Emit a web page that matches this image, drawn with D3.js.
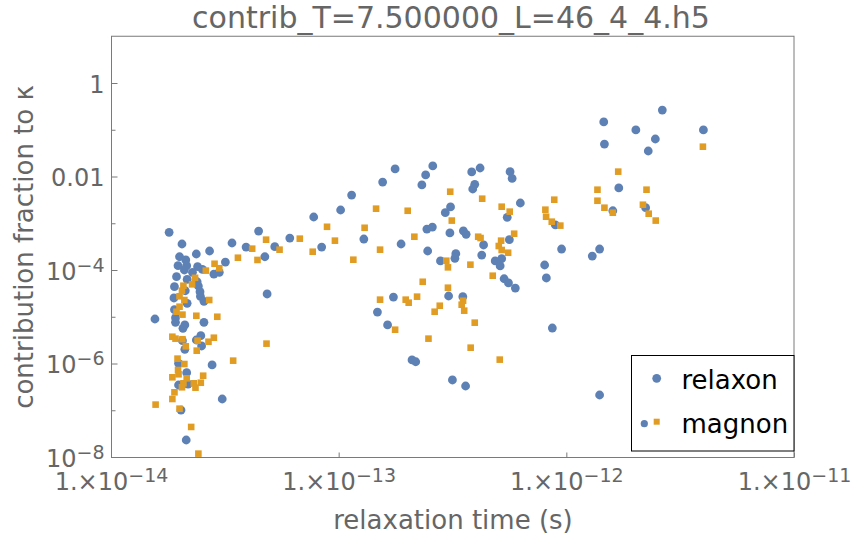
<!DOCTYPE html>
<html><head><meta charset="utf-8">
<script src="https://cdn.jsdelivr.net/npm/d3@7"></script>
<style>body{margin:0;background:#fff} svg{display:block} text{font-family:"DejaVu Sans",sans-serif}</style>
</head><body><svg id="chart" width="855" height="539"></svg>
<script>
// ---- data ----
const relaxonTau = [1.80e-14,2.05e-14,2.37e-14,2.71e-14,3.40e-14,3.92e-14,4.45e-14,2.0e-14,2.13e-14,1.97e-14,
  2.15e-14,2.10e-14,2.40e-14,2.52e-14,3.18e-14,2.83e-14,2.99e-14,2.28e-14,1.94e-14,2.16e-14,
  2.39e-14,1.90e-14,2.42e-14,2.46e-14,2.12e-14,1.89e-14,2.47e-14,2.56e-14,2.16e-14,1.90e-14,
  1.56e-14,1.92e-14,1.92e-14,2.56e-14,2.11e-14,2.07e-14,2.48e-14,2.37e-14,2.06e-14,2.50e-14,
  2.11e-14,2.78e-14,1.98e-14,2.15e-14,1.98e-14,2.18e-14,3.08e-14,2.03e-14,2.14e-14,
  1.77e-13,2.41e-13,2.32e-13,1.56e-13,1.14e-13,1.02e-13,7.77e-14,6.10e-14,5.24e-14,8.42e-14,
  1.29e-13,4.74e-14,1.88e-13,2.44e-13,2.46e-13,4.85e-14,1.74e-13,1.48e-13,1.64e-13,2.10e-13,2.18e-13,
  2.59e-13,3.84e-13,4.18e-13,5.66e-13,5.78e-13,3.96e-13,3.88e-13,6.28e-13,3.10e-13,2.94e-13,
  5.50e-13,8.95e-13,2.58e-13,3.08e-13,3.53e-13,3.63e-13,5.62e-13,4.33e-13,2.80e-13,3.27e-13,
  3.24e-13,4.25e-13,4.87e-13,5.20e-13,5.12e-13,9.53e-13,1.30e-12,1.40e-12,8.03e-13,8.17e-13,
  5.33e-13,5.57e-13,5.97e-13,3.04e-13,3.51e-13,8.68e-13,3.16e-13,3.61e-13,
  2.64e-12,1.46e-12,2.02e-12,4.0e-12,2.46e-12,1.47e-12,2.29e-12,1.70e-12,1.60e-12,2.23e-12,1.40e-12];
const relaxonFrac = [6.4e-4,3.6e-4,2.2e-4,2.55e-4,3.78e-4,3.1e-4,6.8e-4,1.92e-4,1.64e-4,1.24e-4,
  1.24e-4,1.0e-4,1.18e-4,1.03e-4,1.48e-4,8.2e-5,8.9e-5,8.9e-5,7.2e-5,6.3e-5,
  5.6e-5,4.4e-5,4.55e-5,3.44e-5,3.6e-5,2.52e-5,2.74e-5,2.14e-5,1.94e-5,1.42e-5,
  8.95e-6,9.55e-6,7.6e-6,7.6e-6,6.67e-6,5.66e-6,3.94e-6,3.18e-6,3.08e-6,2.37e-6,
  2.01e-6,9.3e-7,1.01e-6,6.35e-7,3.47e-7,3.64e-7,1.74e-7,1.01e-7,2.31e-8,
  1.45e-2,1.08e-2,6.6e-3,7.6e-3,4.0e-3,1.92e-3,1.36e-3,4.83e-4,3.15e-4,3.1e-4,
  4.6e-4,1.92e-4,3.6e-4,7.5e-4,2.55e-4,3.07e-5,2.64e-5,1.26e-5,6.67e-6,1.19e-6,1.09e-6,
  1.68e-2,1.25e-2,1.52e-2,1.27e-2,9.1e-3,6.8e-3,5.4e-3,2.71e-3,2.23e-3,1.68e-3,
  1.34e-3,9.2e-4,8.3e-4,6.2e-4,6.9e-4,5.8e-4,4.45e-4,3.43e-4,1.56e-4,2.23e-4,
  1.78e-4,2.09e-4,1.56e-4,1.75e-4,1.22e-4,2.81e-4,1.99e-4,2.81e-4,1.28e-4,6.75e-5,
  6.5e-5,5.3e-5,4.1e-5,2.78e-5,2.69e-5,5.74e-6,4.44e-7,3.3e-7,
  0.264,0.147,0.099,0.099,0.0634,0.0495,0.0351,5.7e-3,1.85e-3,2.15e-3,2.12e-7];
const magnonTau = [4.17e-14,3.61e-14,4.40e-14,2.85e-14,2.99e-14,2.61e-14,2.34e-14,2.27e-14,2.08e-14,2.05e-14,
  2.0e-14,2.10e-14,2.70e-14,2.0e-14,1.94e-14,2.06e-14,2.37e-14,2.93e-14,1.86e-14,1.92e-14,
  2.06e-14,2.40e-14,2.83e-14,2.68e-14,2.13e-14,2.38e-14,1.96e-14,2.10e-14,3.44e-14,1.97e-14,
  1.98e-14,2.15e-14,1.86e-14,2.54e-14,2.48e-14,2.31e-14,2.08e-14,2.05e-14,2.35e-14,1.90e-14,
  1.86e-14,1.57e-14,2.0e-14,2.25e-14,2.42e-14,
  1.46e-13,2.01e-13,8.89e-14,1.30e-13,2.15e-13,4.80e-14,6.75e-14,9.63e-14,5.50e-14,7.69e-14,
  1.52e-13,1.16e-13,2.34e-13,1.52e-13,1.97e-13,2.03e-13,2.21e-13,1.77e-13,2.48e-13,4.82e-14,
  3.09e-13,4.27e-13,5.20e-13,5.64e-13,8.85e-13,1.37e-12,1.37e-12,8.09e-13,8.15e-13,8.63e-13,
  9.41e-13,3.14e-13,5.90e-13,4.10e-13,4.20e-13,5.17e-13,5.05e-13,5.20e-13,5.55e-13,2.97e-13,
  3.02e-13,3.79e-13,4.75e-13,3.02e-13,3.52e-13,3.47e-13,3.56e-13,2.78e-13,2.64e-13,3.96e-13,
  3.80e-13,5.10e-13,
  3.98e-12,1.69e-12,2.25e-12,1.47e-12,1.60e-12,2.17e-12,2.30e-12,2.47e-12];
const magnonFrac = [2.86e-4,1.83e-4,1.64e-4,1.36e-4,1.09e-4,9.7e-5,6.8e-5,4.94e-5,4.61e-5,3.6e-5,
  2.74e-5,2.28e-5,2.28e-5,1.64e-5,1.28e-5,1.11e-5,1.05e-5,1.0e-5,3.74e-6,3.4e-6,
  3.3e-6,3.08e-6,3.56e-6,2.92e-6,2.33e-6,1.88e-6,1.27e-6,9.75e-7,1.15e-6,7.26e-7,
  5.88e-7,4.82e-7,5.07e-7,5.48e-7,3.88e-7,3.77e-7,3.77e-7,3.1e-7,3.04e-7,2.42e-7,
  1.74e-7,1.32e-7,1.08e-7,4.39e-8,1.18e-8,
  2.05e-3,1.85e-3,8.4e-4,8.0e-4,5.15e-4,4.45e-4,4.68e-4,4.24e-4,2.72e-4,2.46e-4,
  2.72e-4,1.66e-4,5.6e-5,2.32e-5,2.32e-5,2.0e-5,2.69e-5,5.28e-6,3.4e-6,2.66e-6,
  4.73e-3,3.35e-3,2.26e-3,1.77e-3,3.19e-3,5.22e-3,3.03e-3,1.95e-3,1.38e-3,1.08e-3,
  8.9e-4,1.14e-3,5.97e-4,5.15e-4,4.83e-4,4.24e-4,3.26e-4,2.68e-4,2.34e-4,1.58e-4,
  1.14e-4,1.30e-4,7.55e-5,4.18e-5,2.2e-5,1.81e-5,1.35e-5,1.72e-5,1.28e-5,7.47e-6,
  2.18e-6,1.21e-6,
  0.0434,0.0127,5.22e-3,2.15e-3,1.68e-3,2.49e-3,1.6e-3,1.14e-3];

const xTickValues = [1e-14, 1e-13, 1e-12, 1e-11];
const xTickMant = ["1.×10", "1.×10", "1.×10", "1.×10"];
const xTickExp = ["−14", "−13", "−12", "−11"];
const yMajorValues = [1e-8, 1e-6, 1e-4, 1e-2, 1];
const yMajorMant = ["10", "10", "10", "0.01", "1"];
const yMajorExp = ["−8", "−6", "−4", "", ""];
const yMinorValues = [1e-7, 1e-5, 1e-3, 1e-1];
const seriesNames = ["relaxon", "magnon"];
const titleText = "contrib_T=7.500000_L=46_4_4.h5";
const xTitle = "relaxation time (s)";
const yTitle = "contribution fraction to κ";

// ---- drawing ----
const BLUE = "#5E81B5", ORANGE = "#E19C24", GREY = "#666666", FRAME = "#7a7a7a";
const L = 111, R = 794, B = 457;
const svg = d3.select("#chart");
const x = d3.scaleLog().domain([1e-14, 1e-11]).range([L, R]);
const y = d3.scaleLog().domain([1e-8, 10]).range([B, B - 9 * 46.75]);
const T = y(10);

// points
const gPts = svg.append("g");
gPts.selectAll("circle").data(relaxonTau.map((t, i) => [t, relaxonFrac[i]]))
  .join("circle").attr("cx", d => x(d[0])).attr("cy", d => y(d[1])).attr("r", 4.4).attr("fill", BLUE);
const sq = 6.6;
gPts.selectAll("rect").data(magnonTau.map((t, i) => [t, magnonFrac[i]]))
  .join("rect").attr("x", d => x(d[0]) - sq / 2).attr("y", d => y(d[1]) - sq / 2)
  .attr("width", sq).attr("height", sq).attr("fill", ORANGE);

// frame
svg.append("rect").attr("x", L + 0.5).attr("y", T).attr("width", R - L - 0.5).attr("height", B - T + 0.5)
  .attr("fill", "none").attr("stroke", FRAME).attr("stroke-width", 1);

// x axis
const gx = svg.append("g").attr("transform", `translate(0,${B + 0.5})`)
  .call(d3.axisBottom(x).tickValues(xTickValues).tickSize(-5).tickPadding(0).tickFormat(""));
gx.select(".domain").remove();
gx.selectAll(".tick line").attr("stroke", FRAME);
gx.selectAll(".tick text").each(function (d, i) {
  const t = d3.select(this);
  t.attr("y", 32).attr("dy", null).attr("fill", GREY).attr("font-size", 24)
    .attr("font-family", "DejaVu Sans").attr("text-anchor", "middle");
  t.append("tspan").text(xTickMant[i]);
  t.append("tspan").attr("dy", -8).attr("font-size", 19).text(xTickExp[i]);
});

// y axis major
const gy = svg.append("g").attr("transform", `translate(${L + 0.5},0)`)
  .call(d3.axisLeft(y).tickValues(yMajorValues).tickSize(-6).tickPadding(7).tickFormat(""));
gy.select(".domain").remove();
gy.selectAll(".tick line").attr("stroke", FRAME);
gy.selectAll(".tick text").each(function (d, i) {
  const t = d3.select(this);
  t.attr("dy", 9).attr("fill", GREY).attr("font-size", 24).attr("font-family", "DejaVu Sans")
    .attr("text-anchor", "end");
  t.append("tspan").text(yMajorMant[i]);
  if (yMajorExp[i]) t.append("tspan").attr("dy", -8).attr("font-size", 19).text(yMajorExp[i]);
});
// y axis minor
const gym = svg.append("g").attr("transform", `translate(${L + 0.5},0)`)
  .call(d3.axisLeft(y).tickValues(yMinorValues).tickSize(-4).tickFormat(""));
gym.select(".domain").remove();
gym.selectAll(".tick line").attr("stroke", FRAME);

// titles
svg.append("text").attr("x", 451).attr("y", 28).attr("text-anchor", "middle")
  .attr("font-size", 30).attr("fill", GREY).text(titleText);
svg.append("text").attr("x", 453).attr("y", 529).attr("text-anchor", "middle")
  .attr("font-size", 26).attr("fill", GREY).text(xTitle);
svg.append("text").attr("transform", "translate(33,247) rotate(-90)").attr("text-anchor", "middle")
  .attr("font-size", 26).attr("fill", GREY).text(yTitle);

// legend
const lg = svg.append("g");
lg.append("rect").attr("x", 631.5).attr("y", 355.5).attr("width", 162.5).attr("height", 95.5)
  .attr("fill", "#fff").attr("stroke", "#000").attr("stroke-width", 1);
lg.append("circle").attr("cx", 656.7).attr("cy", 378.3).attr("r", 4.4).attr("fill", BLUE);
lg.append("text").attr("x", 681.5).attr("y", 389).attr("font-size", 26).attr("fill", "#000").text(seriesNames[0]);
lg.append("circle").attr("cx", 644.3).attr("cy", 423.7).attr("r", 3.6).attr("fill", BLUE);
lg.append("rect").attr("x", 656.7 - 3).attr("y", 421.7 - 3).attr("width", 6).attr("height", 6).attr("fill", ORANGE);
lg.append("text").attr("x", 681.5).attr("y", 433).attr("font-size", 26).attr("fill", "#000").text(seriesNames[1]);
</script></body></html>
